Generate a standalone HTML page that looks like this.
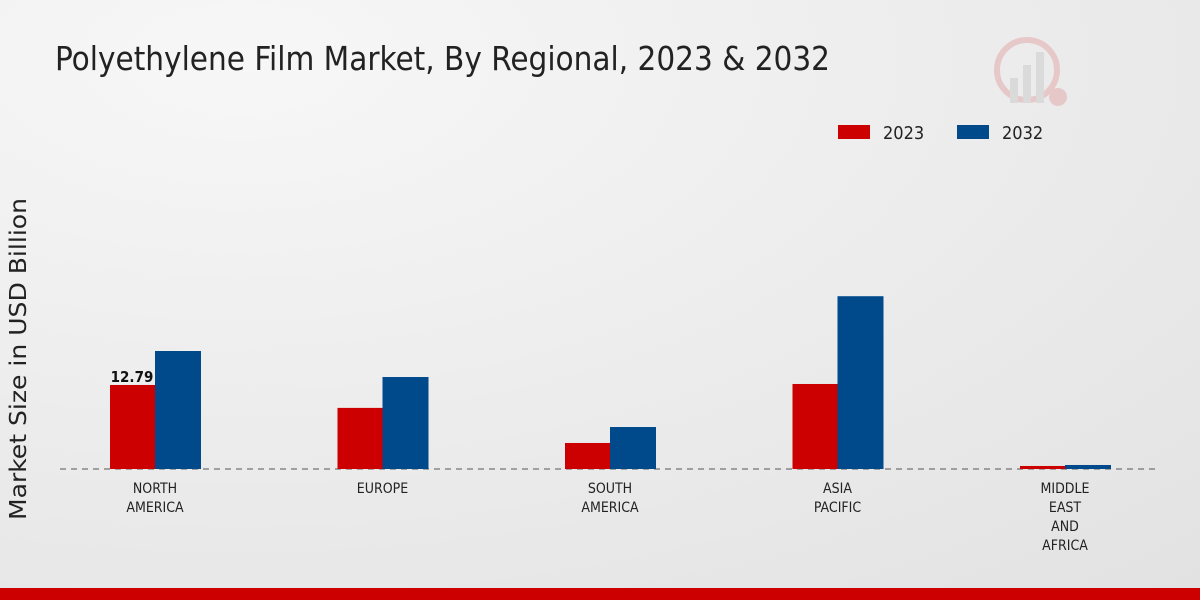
<!DOCTYPE html>
<html><head><meta charset="utf-8"><style>
body{margin:0;width:1200px;height:600px;overflow:hidden;font-family:"DejaVu Sans Condensed","DejaVu Sans","Liberation Sans",sans-serif;}
svg{display:block}
</style></head><body>
<svg width="1200" height="600">
<defs><radialGradient id="bg" cx="0.2" cy="0.1" r="1.2"><stop offset="0" stop-color="#f7f7f7"/><stop offset="1" stop-color="#e2e2e2"/></radialGradient></defs>
<rect width="1200" height="600" fill="url(#bg)"/>
<text x="55" y="70" font-size="33" fill="#222" textLength="775" lengthAdjust="spacingAndGlyphs">Polyethylene Film Market, By Regional, 2023 &amp; 2032</text>
<g opacity="0.35">
<circle cx="1027" cy="70" r="30" fill="none" stroke="#d88" stroke-width="6"/>
<rect x="1010" y="78" width="8" height="25" fill="#bbb"/><rect x="1023" y="65" width="8" height="38" fill="#bbb"/><rect x="1036" y="52" width="8" height="51" fill="#bbb"/>
<circle cx="1058" cy="97" r="9" fill="#d88"/></g>
<g>
<rect x="838" y="125" width="32" height="14" fill="#cc0000"/>
<text x="883" y="139" font-size="18" fill="#222">2023</text>
<rect x="957" y="125" width="32" height="14" fill="#004a8c"/>
<text x="1002" y="139" font-size="18" fill="#222">2032</text>
</g>
<text transform="translate(26,359) rotate(-90)" text-anchor="middle" font-size="23" fill="#222" textLength="322" lengthAdjust="spacingAndGlyphs">Market Size in USD Billion</text>
<line x1="60" y1="469" x2="1160" y2="469" stroke="#555" stroke-dasharray="6,5"/>
<g id="bars"></g>
<rect x="0" y="588" width="1200" height="12" fill="#cc0000"/>
</svg>
<script>
const categories=[["NORTH","AMERICA"],["EUROPE"],["SOUTH","AMERICA"],["ASIA","PACIFIC"],["MIDDLE","EAST","AND","AFRICA"]];
const values2023=[12.79,9.3,3.96,12.94,0.46];
const values2032=[17.96,14.0,6.39,26.3,0.61];
const NS="http://www.w3.org/2000/svg";
const g=document.getElementById('bars');
const base=469, scale=6.57;
const xc=i=>155+i*227.5;
const yh=v=>v*scale;
function mk(t,a){const e=document.createElementNS(NS,t);for(const k in a)e.setAttribute(k,a[k]);g.appendChild(e);return e;}
categories.forEach((c,i)=>{
 const r=mk('rect',{x:xc(i)-45,y:base-yh(values2023[i]),width:45,height:yh(values2023[i]),fill:'#cc0000'});
 
 
 const b=mk('rect',{x:xc(i),y:base-yh(values2032[i]),width:46,height:yh(values2032[i]),fill:'#004a8c'});
 
 
 c.forEach((l,j)=>{const t=mk('text',{x:xc(i),y:493+j*19,'text-anchor':'middle','font-size':14,fill:'#222'});t.textContent=l;
 
 });
});
const lab=mk('text',{x:xc(0)-23,y:base-yh(values2023[0])-3,'text-anchor':'middle','font-size':15,'font-weight':'bold',fill:'#111'});
lab.textContent=values2023[0].toFixed(2);


</script>
</body></html>
